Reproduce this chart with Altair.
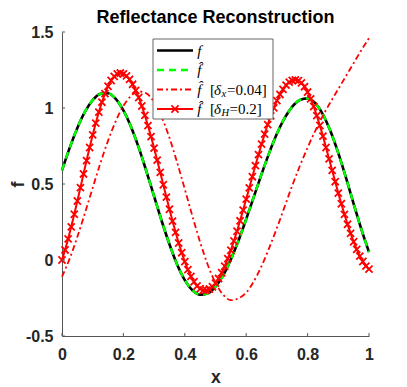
import altair as alt
import pandas as pd

# ---------------- data ----------------
x_coarse = [round(i * 0.025, 3) for i in range(41)]
x_fine = [round(i * 0.01, 2) for i in range(101)]

f_true = [0.590, 0.738, 0.869, 0.976, 1.052, 1.093, 1.097, 1.060, 0.984, 0.875,
          0.739, 0.583, 0.419, 0.255, 0.104, -0.029, -0.132, -0.200, -0.229, -0.219,
          -0.175, -0.101, 0.004, 0.128, 0.269, 0.417, 0.565, 0.705, 0.830, 0.933,
          1.009, 1.053, 1.063, 1.032, 0.957, 0.845, 0.703, 0.542, 0.370, 0.203, 0.052]

f_hat = [0.590, 0.738, 0.869, 0.976, 1.052, 1.093, 1.097, 1.060, 0.984, 0.875,
         0.739, 0.583, 0.419, 0.255, 0.104, -0.029, -0.132, -0.200, -0.229, -0.219,
         -0.175, -0.101, 0.004, 0.128, 0.269, 0.417, 0.565, 0.705, 0.830, 0.933,
         1.009, 1.053, 1.063, 1.032, 0.957, 0.845, 0.703, 0.542, 0.370, 0.203, 0.052]

f_dx = [-0.110, 0.009, 0.152, 0.311, 0.475, 0.637, 0.785, 0.913, 1.014, 1.080,
        1.109, 1.096, 1.038, 0.938, 0.804, 0.642, 0.466, 0.287, 0.117, -0.033,
        -0.150, -0.229, -0.264, -0.252, -0.215, -0.140, -0.040, 0.080, 0.210, 0.350,
        0.490, 0.620, 0.740, 0.850, 0.950, 1.040, 1.125, 1.210, 1.295, 1.380, 1.460]

f_dH = [0.000, 0.066, 0.139, 0.218, 0.301, 0.388, 0.476, 0.566, 0.654, 0.740,
        0.823, 0.901, 0.973, 1.038, 1.095, 1.143, 1.181, 1.208, 1.224, 1.230,
        1.225, 1.211, 1.188, 1.156, 1.116, 1.069, 1.013, 0.951, 0.884, 0.812,
        0.736, 0.657, 0.576, 0.495, 0.414, 0.334, 0.256, 0.182, 0.112, 0.048,
        -0.011, -0.063, -0.108, -0.143, -0.171, -0.189, -0.199, -0.199, -0.191, -0.176,
        -0.152, -0.122, -0.084, -0.041, 0.009, 0.064, 0.125, 0.189, 0.258, 0.328,
        0.401, 0.474, 0.548, 0.621, 0.693, 0.762, 0.828, 0.891, 0.948, 1.001,
        1.049, 1.089, 1.123, 1.150, 1.170, 1.181, 1.185, 1.180, 1.165, 1.140,
        1.105, 1.060, 1.010, 0.950, 0.885, 0.815, 0.740, 0.665, 0.590, 0.515,
        0.440, 0.370, 0.300, 0.235, 0.175, 0.120, 0.070, 0.025, -0.010, -0.040,
        -0.060]

x_ticks = [0, 0.2, 0.4, 0.6, 0.8, 1]
y_ticks = [-0.5, 0, 0.5, 1, 1.5]
title_text = "Reflectance Reconstruction"

# ---------------- layout ----------------
W, H = 307, 304
AX = "#262626"
LBL_FONT = "Liberation Sans"

xaxis = alt.Axis(values=x_ticks, labelExpr="'' + datum.value", ticks=False, tickSize=0,
                 grid=False, domainColor="#555555", domainWidth=1, labelFlush=False,
                 labelFont=LBL_FONT, labelFontSize=16, labelFontWeight="bold",
                 labelColor=AX, labelPadding=10, title="x", titleFont=LBL_FONT,
                 titleFontSize=17.6, titleFontWeight="bold", titleColor=AX,
                 titleX=W / 2, titleY=46, titleBaseline="alphabetic", titleAlign="center")
yaxis = alt.Axis(values=y_ticks, labelExpr="'' + datum.value", ticks=False, tickSize=0,
                 grid=False, domainColor="#555555", domainWidth=1, labelFlush=False,
                 labelFont=LBL_FONT, labelFontSize=16, labelFontWeight="bold",
                 labelColor=AX, labelPadding=9, title="f", titleFont=LBL_FONT,
                 titleFontSize=17.6, titleFontWeight="bold", titleColor=AX,
                 titleAngle=270, titleX=-39, titleY=H / 2, titleBaseline="alphabetic",
                 titleAlign="center")

X = alt.X("x:Q", scale=alt.Scale(domain=[0, 1], nice=False, zero=False), axis=xaxis)
Y = alt.Y("y:Q", scale=alt.Scale(domain=[-0.5, 1.5], nice=False, zero=False), axis=yaxis)

df_f = pd.DataFrame({"x": x_coarse, "y": f_true})
df_fh = pd.DataFrame({"x": x_coarse, "y": f_hat})
df_dx = pd.DataFrame({"x": x_coarse, "y": f_dx})
df_dH = pd.DataFrame({"x": x_fine, "y": f_dH})

XPATH = "M-1,-1L1,1M-1,1L1,-1"
DASHDOT = [6, 3, 2, 3]

l_f = alt.Chart(df_f).mark_line(color="black", strokeWidth=2.6, interpolate="monotone").encode(x=X, y=Y)
l_fh = alt.Chart(df_fh).mark_line(color="#00FF00", strokeWidth=2.4, strokeDash=[7, 5],
                                   interpolate="monotone").encode(x=X, y=Y)
l_dx = alt.Chart(df_dx).mark_line(color="#FF0000", strokeWidth=1.8, strokeDash=DASHDOT,
                                   interpolate="monotone").encode(x=X, y=Y)
l_dH = alt.Chart(df_dH).mark_line(color="#FF0000", strokeWidth=2).encode(x=X, y=Y)
p_dH = alt.Chart(df_dH).mark_point(shape=XPATH, size=50, stroke="#FF0000", strokeWidth=1.8,
                                    filled=False, opacity=1).encode(x=X, y=Y)

# inward ticks (MATLAB style)
tx = alt.Chart(pd.DataFrame({"x": x_ticks})).mark_rule(color="#555555", strokeWidth=1).encode(
    x=X, y=alt.value(H), y2=alt.value(H - 3))
ty = alt.Chart(pd.DataFrame({"y": y_ticks})).mark_rule(color="#555555", strokeWidth=1).encode(
    y=Y, x=alt.value(0), x2=alt.value(3))

one = alt.Data(values=[{"k": 1}])

title_layer = alt.Chart(one).mark_text(
    text=title_text, font=LBL_FONT, fontSize=18, fontWeight="bold", color="black",
    align="center", baseline="alphabetic").encode(x=alt.value(W / 2), y=alt.value(-9))

# ---------------- legend (drawn as annotation) ----------------
BX0, BX1, BY0, BY1 = 91, 211, 7, 87
rows = [18.5, 38, 57.5, 77]
LX0, LX1 = 95, 131
TX = 135.3
legend_layers = [
    alt.Chart(one).mark_rect(fill="white", stroke="#666666", strokeWidth=1).encode(
        x=alt.value(BX0), x2=alt.value(BX1), y=alt.value(BY0), y2=alt.value(BY1)),
    alt.Chart(one).mark_rule(color="black", strokeWidth=2.6).encode(
        x=alt.value(LX0), x2=alt.value(LX1), y=alt.value(rows[0])),
    alt.Chart(one).mark_rule(color="#00FF00", strokeWidth=2.4, strokeDash=[7, 5]).encode(
        x=alt.value(LX0), x2=alt.value(LX1), y=alt.value(rows[1])),
    alt.Chart(one).mark_rule(color="#FF0000", strokeWidth=1.8, strokeDash=DASHDOT).encode(
        x=alt.value(LX0), x2=alt.value(LX1), y=alt.value(rows[2])),
    alt.Chart(one).mark_rule(color="#FF0000", strokeWidth=2).encode(
        x=alt.value(LX0), x2=alt.value(LX1), y=alt.value(rows[3])),
    alt.Chart(one).mark_point(shape=XPATH, size=50, stroke="#FF0000", strokeWidth=1.8,
                              filled=False, opacity=1).encode(
        x=alt.value((LX0 + LX1) / 2), y=alt.value(rows[3])),
]

SERIF = "Liberation Serif"


def seg(text, x, y, size=15, italic=False):
    kw = dict(align="left", baseline="middle", font=SERIF, fontSize=size, color="black", text=text)
    if italic:
        kw["fontStyle"] = "italic"
    return alt.Chart(one).mark_text(**kw).encode(x=alt.value(x), y=alt.value(y))


legend_layers += [
    seg("f", TX, rows[0], italic=True),
    seg("f\u0302", TX, rows[1], italic=True),
    seg("f\u0302", TX, rows[2], italic=True),
    seg("[", 148, rows[2]),
    seg("\u03b4", 152, rows[2], italic=True),
    seg("x", 159.6, rows[2] + 4, size=10.5, italic=True),
    seg("=0.04]", 165, rows[2]),
    seg("f\u0302", TX, rows[3], italic=True),
    seg("[", 148, rows[3]),
    seg("\u03b4", 152, rows[3], italic=True),
    seg("H", 159.6, rows[3] + 4, size=10.5, italic=True),
    seg("=0.2]", 167.5, rows[3]),
]

chart = alt.layer(l_f, l_fh, l_dx, l_dH, p_dH, tx, ty, title_layer, *legend_layers).properties(
    width=W, height=H,
    autosize=alt.AutoSizeParams(type="none"),
    padding={"left": 54, "top": 24, "right": 30, "bottom": 50},
).configure_view(stroke=None)

chart.save("out.html", embed_options={"renderer": "svg", "actions": False})
